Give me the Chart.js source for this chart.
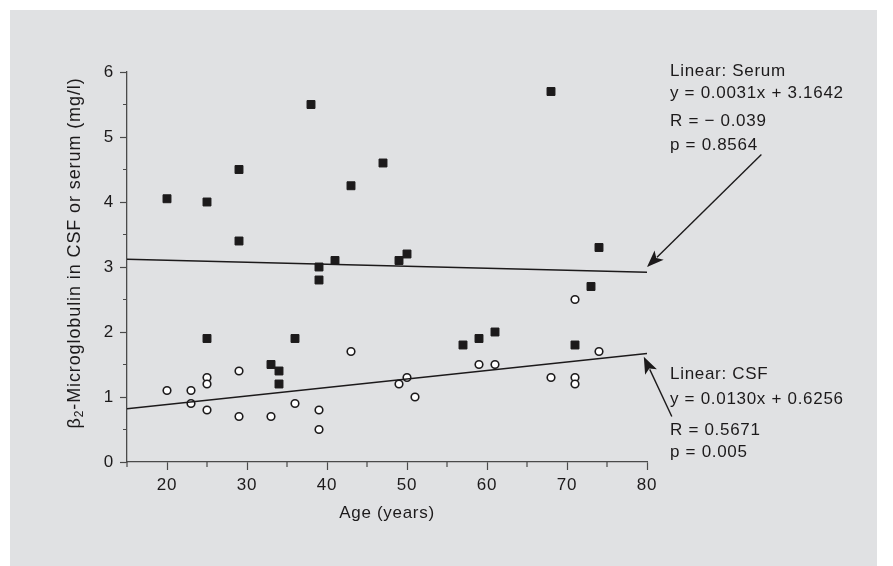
<!DOCTYPE html>
<html>
<head>
<meta charset="utf-8">
<script src="https://cdn.jsdelivr.net/npm/chart.js@4"></script>
<style>
  html, body { margin: 0; padding: 0; background: #ffffff; }
  canvas { display: block; }
</style>
</head>
<body>
<canvas id="b2mChart" width="893" height="566"></canvas>
<script>
// serum values (filled squares)
const serumAge = [20, 25, 25, 29, 29, 33, 34, 34, 36, 38, 39, 39, 41, 43, 47, 49, 50, 57, 59, 61, 68, 71, 73, 74];
const serumVal = [4.05, 4.0, 1.9, 4.5, 3.4, 1.5, 1.4, 1.2, 1.9, 5.5, 3.0, 2.8, 3.1, 4.25, 4.6, 3.1, 3.2, 1.8, 1.9, 2.0, 5.7, 1.8, 2.7, 3.3];

// CSF values (open circles)
const csfAge = [20, 23, 23, 25, 25, 25, 29, 29, 33, 36, 39, 39, 43, 49, 50, 51, 59, 61, 68, 71, 71, 71, 74];
const csfVal = [1.1, 1.1, 0.9, 1.3, 1.2, 0.8, 1.4, 0.7, 0.7, 0.9, 0.8, 0.5, 1.7, 1.2, 1.3, 1.0, 1.5, 1.5, 1.3, 2.5, 1.3, 1.2, 1.7];

// regression lines, as drawn
const fitAge = [15, 80];
const serumFit = [3.12, 2.92];
const csfFit = [0.82, 1.67];

// arrows pointing at the line ends (data units: tail, tip)
const serumArrowX = [94.3, 80.0];
const serumArrowY = [4.73, 3.0];
const csfArrowX = [83.1, 79.6];
const csfArrowY = [0.70, 1.62];

const xTickLabels = [20, 30, 40, 50, 60, 70, 80];
const yTickLabels = [0, 1, 2, 3, 4, 5, 6];

const serumNote = ['Linear: Serum', 'y = 0.0031x + 3.1642', 'R = \u2212 0.039', 'p = 0.8564'];
const csfNote = ['Linear: CSF', 'y = 0.0130x + 0.6256', 'R = 0.5671', 'p = 0.005'];
const yTitleParts = ['\u03b2', '2', '-Microglobulin in CSF or serum (mg/l)'];
const xTitle = 'Age (years)';

const family = '"Liberation Sans", Arial, sans-serif';
const ink = '#1c1a1b';
const axisColor = '#4a4a4a';

Chart.defaults.font.family = family;
Chart.defaults.font.size = 17;
Chart.defaults.color = ink;

function toPoints(xs, ys) {
  return xs.map((x, i) => ({ x: x, y: ys[i] }));
}

function drawArrow(ctx, x0, y0, x1, y1) {
  const ang = Math.atan2(y1 - y0, x1 - x0);
  const headLen = 17, headW = 6.5;
  const bx = x1 - headLen * Math.cos(ang), by = y1 - headLen * Math.sin(ang);
  ctx.beginPath();
  ctx.moveTo(x0, y0);
  ctx.lineTo(bx + 3 * Math.cos(ang), by + 3 * Math.sin(ang));
  ctx.stroke();
  ctx.beginPath();
  ctx.moveTo(x1, y1);
  ctx.lineTo(bx + headW * Math.sin(ang), by - headW * Math.cos(ang));
  ctx.lineTo(bx + 4 * Math.cos(ang), by + 4 * Math.sin(ang));
  ctx.lineTo(bx - headW * Math.sin(ang), by + headW * Math.cos(ang));
  ctx.closePath();
  ctx.fill();
}

const extrasPlugin = {
  id: 'extras',
  beforeUpdate(chart) {
    chart.ctx.letterSpacing = '0.7px';
  },
  beforeDraw(chart) {
    const ctx = chart.ctx;
    ctx.letterSpacing = '0.7px';
    ctx.save();
    ctx.fillStyle = '#e0e1e3';
    ctx.fillRect(10, 10, 867, 556);
    ctx.restore();
  },
  afterDraw(chart) {
    const ctx = chart.ctx;
    const xs = chart.scales.x, ys = chart.scales.y;
    const area = chart.chartArea;

    // minor ticks
    ctx.save();
    ctx.strokeStyle = axisColor;
    ctx.lineWidth = 1.2;
    ctx.beginPath();
    xs.ticks.forEach(t => {
      if (t.value % 10 !== 0) {
        const px = xs.getPixelForValue(t.value);
        ctx.moveTo(px, area.bottom);
        ctx.lineTo(px, area.bottom + 5);
      }
    });
    ys.ticks.forEach(t => {
      if (t.value % 1 !== 0) {
        const py = ys.getPixelForValue(t.value);
        ctx.moveTo(area.left - 4, py);
        ctx.lineTo(area.left, py);
      }
    });
    ctx.stroke();
    ctx.restore();

    // arrows
    ctx.save();
    ctx.strokeStyle = ink;
    ctx.fillStyle = ink;
    ctx.lineWidth = 1.4;
    drawArrow(ctx,
      xs.getPixelForValue(serumArrowX[0]), ys.getPixelForValue(serumArrowY[0]),
      xs.getPixelForValue(serumArrowX[1]), ys.getPixelForValue(serumArrowY[1]));
    drawArrow(ctx,
      xs.getPixelForValue(csfArrowX[0]), ys.getPixelForValue(csfArrowY[0]),
      xs.getPixelForValue(csfArrowX[1]), ys.getPixelForValue(csfArrowY[1]));
    ctx.restore();

    // notes
    ctx.save();
    ctx.letterSpacing = '0.7px';
    ctx.fillStyle = ink;
    ctx.font = '17px ' + family;
    ctx.textAlign = 'left';
    ctx.textBaseline = 'middle';
    const serumY = [71, 93, 121, 145];
    serumNote.forEach((s, i) => ctx.fillText(s, 670, serumY[i]));
    const csfY = [374, 399, 430, 452];
    csfNote.forEach((s, i) => ctx.fillText(s, 670, csfY[i]));
    ctx.restore();

    // y title with subscript
    ctx.save();
    ctx.letterSpacing = '0.9px';
    ctx.fillStyle = ink;
    ctx.translate(75, 253);
    ctx.rotate(-Math.PI / 2);
    ctx.textAlign = 'left';
    ctx.textBaseline = 'middle';
    const big = '18px ' + family, small = '12px ' + family;
    ctx.font = big;
    const w1 = ctx.measureText(yTitleParts[0]).width;
    const w3 = ctx.measureText(yTitleParts[2]).width;
    ctx.font = small;
    const w2 = ctx.measureText(yTitleParts[1]).width;
    let x = -(w1 + w2 + w3) / 2;
    ctx.font = big;
    ctx.fillText(yTitleParts[0], x, 0);
    x += w1;
    ctx.font = small;
    ctx.fillText(yTitleParts[1], x, 5);
    x += w2;
    ctx.font = big;
    ctx.fillText(yTitleParts[2], x, 0);
    ctx.restore();
  }
};

const ctx = document.getElementById('b2mChart').getContext('2d');
const b2mChart = new Chart(ctx, {
  type: 'scatter',
  data: {
    datasets: [
      {
        label: 'Serum fit',
        type: 'line',
        data: toPoints(fitAge, serumFit),
        borderColor: ink,
        borderWidth: 1.4,
        pointRadius: 0,
        fill: false
      },
      {
        label: 'CSF fit',
        type: 'line',
        data: toPoints(fitAge, csfFit),
        borderColor: ink,
        borderWidth: 1.4,
        pointRadius: 0,
        fill: false
      },
      {
        label: 'Serum',
        data: toPoints(serumAge, serumVal),
        pointStyle: 'rect',
        pointRadius: 5.6,
        pointBackgroundColor: ink,
        pointBorderColor: ink,
        pointBorderWidth: 1
      },
      {
        label: 'CSF',
        data: toPoints(csfAge, csfVal),
        pointStyle: 'circle',
        pointRadius: 3.8,
        pointBackgroundColor: '#ffffff',
        pointBorderColor: ink,
        pointBorderWidth: 1.6
      }
    ]
  },
  options: {
    responsive: false,
    animation: false,
    devicePixelRatio: 1,
    layout: {
      padding: { left: 67, right: 246, top: 72, bottom: 42 }
    },
    scales: {
      x: {
        type: 'linear',
        min: 15,
        max: 80,
        afterFit: function(scale) { scale.height = 62; },
        border: { color: axisColor, width: 1.3 },
        grid: {
          drawOnChartArea: false,
          tickLength: 8,
          tickWidth: 1.2,
          tickColor: c => (c.tick && c.tick.value % 10 === 0) ? axisColor : 'rgba(0,0,0,0)'
        },
        ticks: {
          stepSize: 5,
          autoSkip: false,
          maxRotation: 0,
          padding: 5,
          color: ink,
          callback: v => xTickLabels.includes(v) ? String(v) : ''
        },
        title: {
          display: true,
          text: xTitle,
          color: ink,
          padding: { top: 0, bottom: 0 },
          font: { size: 17 }
        }
      },
      y: {
        type: 'linear',
        min: 0,
        max: 6,
        afterFit: function(scale) { scale.width = 60; },
        border: { color: axisColor, width: 1.3 },
        grid: {
          drawOnChartArea: false,
          tickLength: 7,
          tickWidth: 1.2,
          tickColor: c => (c.tick && c.tick.value % 1 === 0) ? axisColor : 'rgba(0,0,0,0)'
        },
        ticks: {
          stepSize: 0.5,
          autoSkip: false,
          padding: 6,
          color: ink,
          callback: v => yTickLabels.includes(v) ? String(v) : ''
        }
      }
    },
    plugins: {
      legend: { display: false },
      tooltip: { enabled: false }
    }
  },
  plugins: [extrasPlugin]
});
</script>
</body>
</html>
